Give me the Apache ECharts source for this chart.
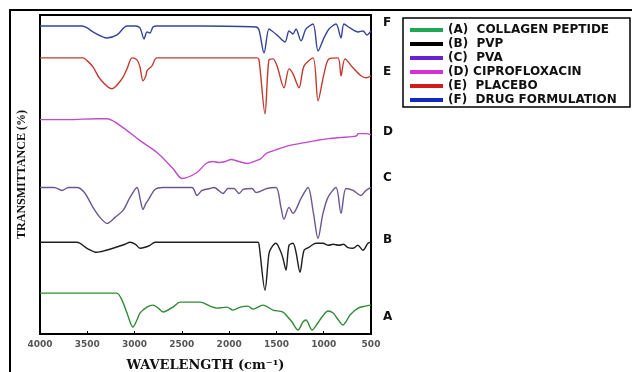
<!DOCTYPE html>
<html>
<head>
<meta charset="utf-8">
<script src="https://cdn.jsdelivr.net/npm/echarts@6/dist/echarts.min.js"></script>
<style>
  html, body { margin: 0; padding: 0; background: #fff; }
  #chart { width: 632px; height: 372px; }
</style>
</head>
<body>
<div id="chart"></div>
<script>
// spectra: [wavenumber, transmittance (offset units)]
var collagenPeptide = [[4000,41],[3400,41],[3190,41],[3133,34],[3080,21],[3017,7],[2975,14],[2943,21],[2869,27],[2805,29],[2750,26],[2699,22],[2594,27],[2520,32],[2400,32],[2308,32],[2202,28],[2128,26],[2023,27],[1959,24],[1880,27],[1801,28],[1748,25],[1642,29],[1536,24],[1431,22],[1380,17],[1335,12],[1272,4],[1220,12],[1187,14],[1124,4],[1070,10],[1018,17],[955,23],[900,21],[860,16],[796,9],[760,13],[722,19],[637,26],[560,28],[500,29]];
var pvp = [[4000,92],[3609,92],[3503,86],[3400,82],[3300,84],[3228,86],[3100,90],[3048,92],[2990,90],[2943,86],[2890,87],[2837,89],[2784,92],[2200,92],[1695,92],[1684,90],[1621,44],[1580,80],[1557,86],[1505,91],[1452,82],[1431,76],[1399,64],[1367,89],[1325,91],[1293,82],[1251,62],[1208,84],[1156,87],[1082,91],[1008,91],[950,89],[900,90],[838,89],[790,90],[750,87],[690,86],[640,89],[585,84],[532,91],[500,92]];
var pva = [[4000,147],[3850,147],[3767,144],[3700,147],[3609,147],[3530,142],[3440,127],[3366,117],[3290,111],[3207,117],[3122,124],[3048,137],[2974,147],[2940,135],[2911,125],[2880,131],[2858,134],[2784,145],[2700,147],[2393,147],[2340,139],[2287,144],[2202,146],[2160,147],[2065,141],[2012,146],[1949,146],[1896,141],[1850,145],[1760,146],[1716,142],[1600,146],[1505,147],[1452,127],[1420,115],[1367,127],[1325,121],[1240,136],[1166,147],[1110,122],[1060,96],[1010,120],[955,137],[870,147],[817,121],[764,146],[690,144],[606,139],[553,144],[500,147]];
var ciprofloxacin = [[4000,215],[3700,215],[3400,216],[3290,216],[3122,207],[2943,194],[2763,182],[2594,166],[2498,156],[2340,162],[2245,171],[2171,173],[2107,172],[2040,173],[1980,175],[1896,173],[1801,171],[1740,173],[1663,176],[1610,181],[1500,185],[1367,189],[1200,192],[1082,194],[950,196],[838,197],[690,198],[650,199],[637,201],[553,201],[500,200]];
var placebo = [[4000,277],[3545,277],[3500,274],[3440,268],[3366,256],[3240,246],[3133,256],[3080,266],[3027,277],[2975,275],[2943,268],[2911,254],[2880,259],[2869,264],[2816,269],[2763,277],[2200,277],[1705,277],[1684,275],[1621,221],[1579,275],[1536,276],[1494,269],[1420,247],[1367,266],[1325,261],[1261,247],[1208,269],[1113,277],[1060,234],[997,261],[944,276],[849,277],[817,259],[775,276],[690,267],[606,259],[553,257],[500,259]];
var drugFormulation = [[4000,309],[3556,309],[3500,307],[3440,303],[3290,297],[3186,300],[3080,309],[2990,309],[2943,307],[2900,296],[2869,303],[2837,302],[2805,308],[2763,309],[2300,309],[1716,308],[1684,305],[1631,282],[1579,306],[1547,304],[1494,300],[1409,293],[1367,304],[1325,301],[1293,306],[1240,294],[1187,306],[1113,311],[1060,284],[997,297],[944,306],[870,311],[817,297],[786,311],[722,307],[637,303],[585,304],[542,300],[500,304]];

var seriesNames = ['(A)  COLLAGEN PEPTIDE', '(B)  PVP', '(C)  PVA', '(D) CIPROFLOXACIN', '(E)  PLACEBO', '(F)  DRUG FORMULATION'];
var seriesData = [collagenPeptide, pvp, pva, ciprofloxacin, placebo, drugFormulation];
var lineColors = ['#2f8a35', '#1e1e1e', '#6b5690', '#c04bc9', '#c23a30', '#34449a'];
var legendColors = ['#1fa851', '#000000', '#6a1fd2', '#d631d6', '#d21c1c', '#1428c4'];
var traceLetters = ['A', 'B', 'C', 'D', 'E', 'F'];
var letterY = [317, 240, 178, 132, 72, 23];

var chart = echarts.init(document.getElementById('chart'));

var series = [];
var legendData = [];
var extras = [];
for (var i = 0; i < seriesData.length; i++) {
    series.push({
        name: seriesNames[i],
        type: 'line',
        data: seriesData[i],
        showSymbol: false,
        smooth: 0.3,
        lineStyle: { color: lineColors[i], width: 1.4 },
        itemStyle: { color: legendColors[i] }
    });
    legendData.push({ name: seriesNames[i], itemStyle: { color: legendColors[i] } });
    extras.push({
        type: 'text',
        left: 383,
        top: letterY[i] - 6,
        style: { text: traceLetters[i], font: 'bold 12px "DejaVu Sans", Arial', fill: '#111' }
    });
}

// outer frame (runs off the right and bottom of the picture)
extras.push({
    type: 'rect',
    shape: { x: 10, y: 10, width: 700, height: 420 },
    style: { fill: null, stroke: '#000', lineWidth: 2 }
});
// legend box
extras.push({
    type: 'rect',
    shape: { x: 403, y: 18, width: 227, height: 89 },
    style: { fill: null, stroke: '#000', lineWidth: 1.5 }
});

option = {
    animation: false,
    backgroundColor: '#fff',
    grid: {
        left: 40,
        top: 15,
        right: 261,
        bottom: 38,
        outerBoundsMode: 'none',
        show: true,
        borderColor: '#000',
        borderWidth: 2
    },
    legend: {
        data: legendData,
        orient: 'vertical',
        left: 410,
        top: 24,
        icon: 'rect',
        itemWidth: 33,
        itemHeight: 4,
        itemGap: 2,
        padding: 0,
        textStyle: {
            fontFamily: '"DejaVu Sans", Arial',
            fontWeight: 'bold',
            fontSize: 12,
            lineHeight: 12,
            color: '#111'
        }
    },
    xAxis: {
        type: 'value',
        min: 500,
        max: 4000,
        interval: 500,
        inverse: true,
        name: 'WAVELENGTH (cm⁻¹)',
        nameLocation: 'middle',
        nameGap: 25,
        nameTextStyle: {
            fontFamily: '"DejaVu Serif", "Times New Roman", serif',
            fontWeight: 'bold',
            fontSize: 13,
            color: '#111'
        },
        axisLine: { show: false },
        axisTick: { show: true, inside: true, length: 3, lineStyle: { color: '#000' } },
        axisLabel: {
            margin: 6,
            fontSize: 9,
            fontWeight: 'bold',
            color: '#555',
            fontFamily: '"DejaVu Sans", Arial',
            formatter: function (v) { return String(v); }
        },
        splitLine: { show: false }
    },
    yAxis: {
        type: 'value',
        min: 0,
        max: 320,
        name: 'TRANSMITTANCE (%)',
        nameLocation: 'middle',
        nameGap: 12,
        nameTextStyle: {
            fontFamily: '"Liberation Serif", "Times New Roman", serif',
            fontWeight: 'bold',
            fontSize: 12,
            color: '#111'
        },
        axisLine: { show: false },
        axisTick: { show: false },
        axisLabel: { show: false },
        splitLine: { show: false }
    },
    graphic: extras,
    series: series
};
chart.setOption(option);
</script>
</body>
</html>
